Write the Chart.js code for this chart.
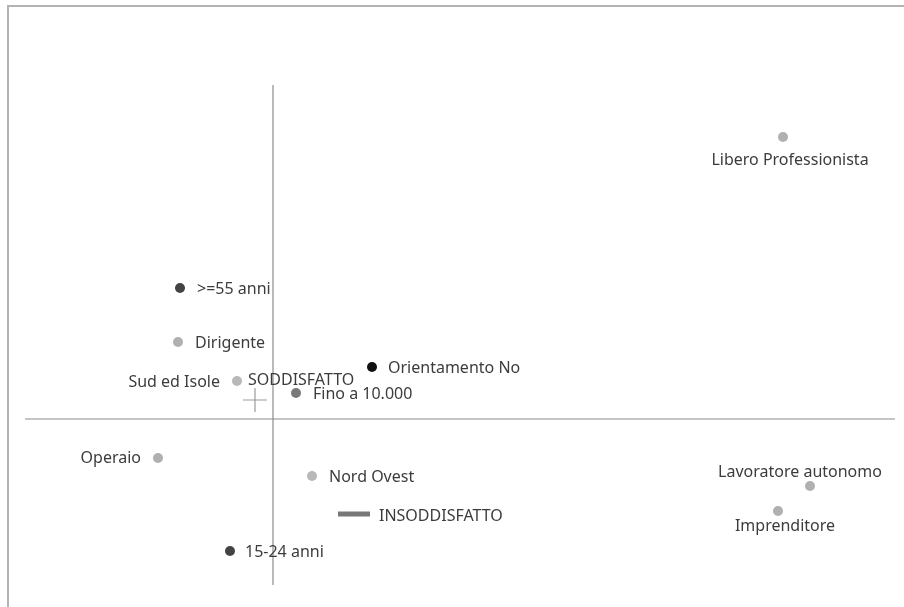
<!DOCTYPE html>
<html>
<head>
<meta charset="utf-8">
<script src="https://cdn.jsdelivr.net/npm/chart.js@4"></script>
<style>
    html, body { margin: 0; padding: 0; background: #fff; }
    #wrap { position: relative; width: 904px; height: 607px; }
    #frame {
        position: absolute; left: 7px; top: 5px; right: 0; bottom: 0;
        border-top: 2px solid #b4b4b4; border-left: 2px solid #b4b4b4;
    }
    canvas { position: absolute; left: 0; top: 0; }
</style>
</head>
<body>
<div id="wrap">
    <div id="frame"></div>
    <canvas id="map" width="904" height="607"></canvas>
</div>
<script>
// ── Data (factor coordinates) ──
const NAMES = [
    'Libero Professionista', '>=55 anni', 'Dirigente', 'Orientamento No',
    'Sud ed Isole', 'SODDISFATTO', 'Fino a 10.000', 'Operaio',
    'Nord Ovest', 'INSODDISFATTO', '15-24 anni', 'Lavoratore autonomo', 'Imprenditore'
];
const DIM1 = [2.55, -0.465, -0.475, 0.495, -0.18, -0.09, 0.115, -0.575, 0.195, 0.405, -0.215, 2.685, 2.525];
const DIM2 = [1.41, 0.655, 0.385, 0.26, 0.19, 0.095, 0.13, -0.195, -0.285, -0.475, -0.66, -0.335, -0.46];
const KIND = ['prof', 'age', 'prof', 'orient', 'area', 'satis', 'income', 'prof', 'area', 'unsat', 'age', 'prof', 'prof'];
const X_RANGE = [-1.24, 3.11];
const Y_RANGE = [-0.83, 1.67];

// ── Styles ──
const KIND_COLOR = {
    prof: '#b0b0b0', area: '#b8b8b8', age: '#444444', orient: '#111111',
    income: '#7a7a7a', satis: '#9a9a9a', unsat: '#777777'
};
const KIND_STYLE = { satis: 'cross', unsat: 'line' };
const KIND_RADIUS = { satis: 12, unsat: 16 };
// label placement: [dx, dy, align]
const LABEL_POS = [
    [7, 23, 'center'], [17, 1, 'left'], [17, 1, 'left'], [16, 1, 'left'],
    [-17, 1, 'right'], [-7, -20, 'left'], [17, 1, 'left'], [-17, 0, 'right'],
    [17, 1, 'left'], [25, 2, 'left'], [15, 1, 'left'], [-10, -14, 'center'], [7, 15, 'center']
];

const points = NAMES.map((n, i) => ({ x: DIM1[i], y: DIM2[i] }));

const pointLabels = {
    id: 'pointLabels',
    afterDatasetsDraw(chart) {
        const ctx = chart.ctx;
        const meta = chart.getDatasetMeta(2);
        ctx.save();
        ctx.font = '16px "Noto Sans", sans-serif';
        ctx.fillStyle = '#3c3c3c';
        ctx.textBaseline = 'middle';
        meta.data.forEach((el, i) => {
            const p = LABEL_POS[i];
            ctx.textAlign = p[2];
            ctx.fillText(NAMES[i], el.x + p[0], el.y + p[1]);
        });
        ctx.restore();
    }
};

new Chart(document.getElementById('map'), {
    type: 'scatter',
    data: {
        datasets: [
            {
                type: 'line', data: [{ x: 0, y: Y_RANGE[0] }, { x: 0, y: Y_RANGE[1] }],
                borderColor: '#8c8c8c', borderWidth: 1.2, pointRadius: 0, clip: false
            },
            {
                type: 'line', data: [{ x: X_RANGE[0], y: 0 }, { x: X_RANGE[1], y: 0 }],
                borderColor: '#8c8c8c', borderWidth: 1.2, pointRadius: 0, clip: false
            },
            {
                data: points,
                pointStyle: KIND.map(k => KIND_STYLE[k] || 'circle'),
                pointRadius: KIND.map(k => KIND_RADIUS[k] || 5),
                pointBackgroundColor: KIND.map(k => KIND_COLOR[k]),
                pointBorderColor: KIND.map(k => KIND_COLOR[k]),
                pointBorderWidth: KIND.map(k => k === 'unsat' ? 5 : (k === 'satis' ? 1.2 : 0)),
                clip: false
            }
        ]
    },
    options: {
        responsive: false, animation: false,
        layout: { autoPadding: false, padding: { left: 25, right: 9, top: 85, bottom: 22 } },
        plugins: { legend: { display: false }, tooltip: { enabled: false } },
        scales: {
            x: { type: 'linear', min: X_RANGE[0], max: X_RANGE[1], display: false },
            y: { type: 'linear', min: Y_RANGE[0], max: Y_RANGE[1], display: false }
        }
    },
    plugins: [pointLabels]
});
</script>
</body>
</html>
